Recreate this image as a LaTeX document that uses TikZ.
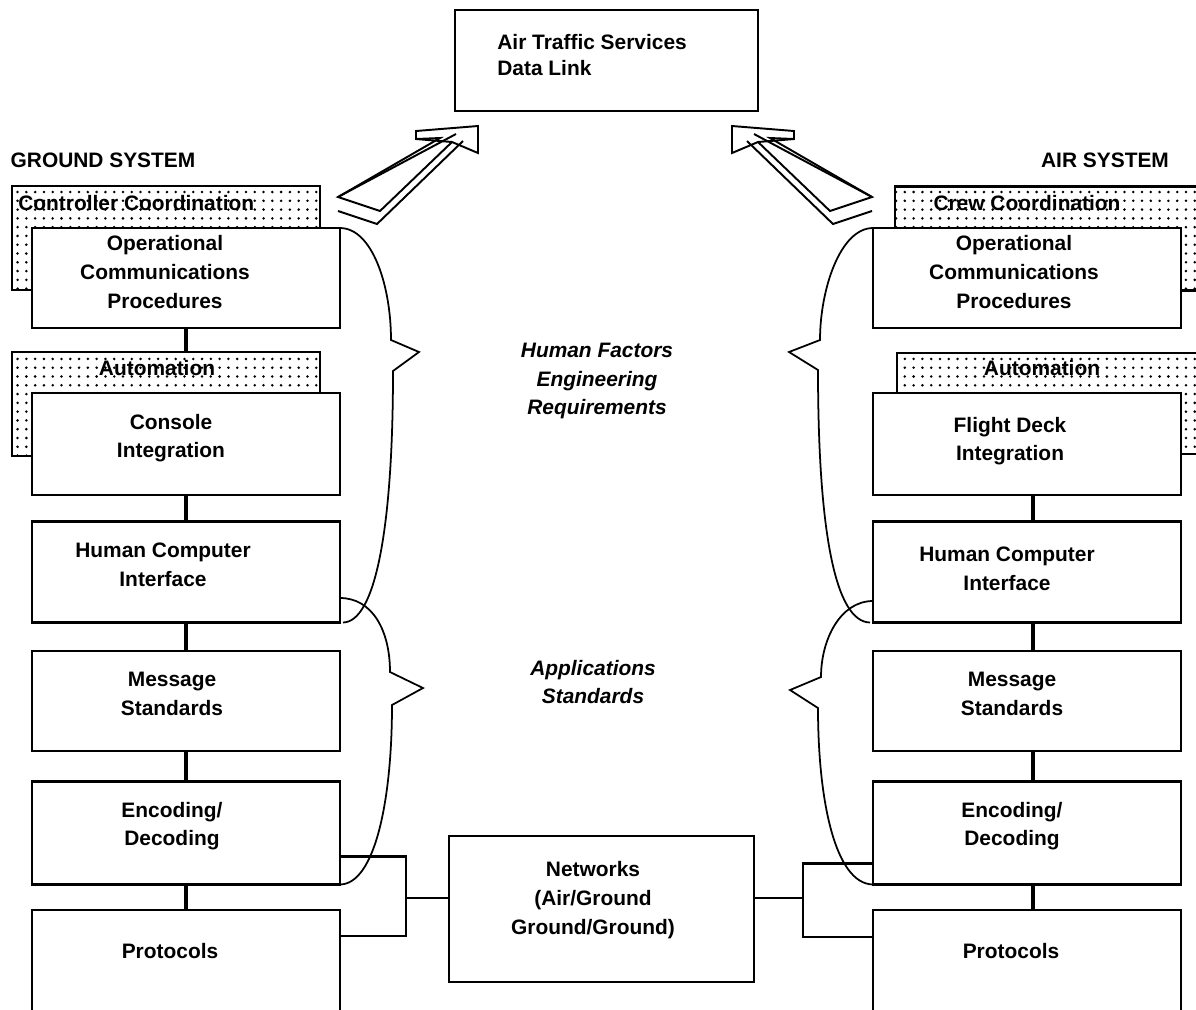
\documentclass[tikz,border=0pt]{standalone}
\usepackage{fontspec}
\setmainfont{Liberation Sans}
\usetikzlibrary{patterns.meta,calc}
\newcommand\atsarrow{%
  \draw[arr] (338,197) -- (380,211) -- (452,142) -- (478,153) -- (478,126) -- (416,131) -- (416,139) -- (440,138) -- cycle;
  \draw[arr] (338,197) -- (456,134);
  \draw[arr] (416,139) -- (452,142);
  \draw[arr] (338,211) -- (377,224) -- (463,141);
}
\begin{document}
\begin{tikzpicture}[x=0.02cm,y=-0.02cm,
  box/.style={draw,line width=1.2pt,fill=white,minimum width=6.16cm,inner sep=0,outer sep=0},
  dotbox/.style={draw,line width=1.2pt,preaction={fill=white},pattern={Dots[distance=5pt,radius=0.8pt]},minimum width=6.16cm,minimum height=2.08cm,inner sep=0,outer sep=0},
  lbl/.style={font=\bfseries\fontsize{11.9}{16.3}\selectfont,align=center,inner sep=0},
  ilbl/.style={font=\bfseries\itshape\fontsize{11.9}{16.3}\selectfont,align=center,inner sep=0},
  conn/.style={line width=2.4pt},
  thinc/.style={line width=1.2pt},
  brace/.style={line width=1pt,line join=miter},
  arr/.style={line width=1.1pt,line join=miter}]
\useasboundingbox (0,0) rectangle (1196,1009);
\clip (0,0) rectangle (1196,1009);

% top box
\node[box,minimum width=6.06cm,minimum height=2.02cm] (TB) at (606.5,60.5) {};
\node[lbl,align=left,anchor=west,font=\bfseries\fontsize{11.9}{15}\selectfont] (TBt) at (497,55) {Air Traffic Services\\Data Link};

% titles
\node[lbl] (GS) at (103,160) {GROUND SYSTEM};
\node[lbl] (AS) at (1105,160) {AIR SYSTEM};

% dotted boxes
\node[dotbox] (LC) at (166,238) {};
\node[lbl,anchor=west] (LCt) at (18,203) {Controller Coordination};
\node[dotbox] (LA) at (166,404) {};
\node[lbl] (LAt) at (157,368) {Automation};
\node[dotbox] (RC) at (1049,238.5) {};
\node[lbl] (RCt) at (1027,203) {Crew Coordination};
\node[dotbox,minimum height=2.02cm] (RA) at (1051,403.5) {};
\node[lbl] (RAt) at (1042,368) {Automation};

% left column
\node[box,minimum height=2cm] (L1) at (186,278) {};
\node[box,minimum height=2.04cm] (L2) at (186,444) {};
\node[box,minimum height=2.02cm] (L3) at (186,572) {};
\node[box,minimum height=2cm] (L4) at (186,701) {};
\node[box,minimum height=2.06cm] (L5) at (186,833) {};
\node[box,minimum height=2.04cm] (L6) at (186,961) {};
\node[lbl] (L1t) at (165,272) {Operational\\Communications\\Procedures};
\node[lbl] (L2t) at (171,438) {Console\\Integration};
\node[lbl] (L3t) at (163,565) {Human Computer\\Interface};
\node[lbl] (L4t) at (172,694) {Message\\Standards};
\node[lbl] (L5t) at (172,826) {Encoding/\\Decoding};
\node[lbl] (L6t) at (170,951) {Protocols};

% right column
\node[box,minimum height=2cm] (R1) at (1027,278) {};
\node[box,minimum height=2.04cm] (R2) at (1027,444) {};
\node[box,minimum height=2.02cm] (R3) at (1027,572) {};
\node[box,minimum height=2cm] (R4) at (1027,701) {};
\node[box,minimum height=2.06cm] (R5) at (1027,833) {};
\node[box,minimum height=2.04cm] (R6) at (1027,961) {};
\node[lbl] (R1t) at (1014,272) {Operational\\Communications\\Procedures};
\node[lbl] (R2t) at (1010,441) {Flight Deck\\Integration};
\node[lbl] (R3t) at (1007,569) {Human Computer\\Interface};
\node[lbl] (R4t) at (1012,694) {Message\\Standards};
\node[lbl] (R5t) at (1012,826) {Encoding/\\Decoding};
\node[lbl] (R6t) at (1011,951) {Protocols};

% networks
\node[box,minimum width=6.1cm,minimum height=2.92cm] (NW) at (601.5,909) {};
\node[lbl] (NWt) at (593,900) {Networks\\(Air/Ground\\Ground/Ground)};

% column connectors
\draw[conn] (L1.south) -- (L1.south |- LA.north);
\draw[conn] (L2.south) -- (L3.north);
\draw[conn] (L3.south) -- (L4.north);
\draw[conn] (L4.south) -- (L5.north);
\draw[conn] (L5.south) -- (L6.north);
\draw[conn] ($(R1.south)+(6,0)$) -- ($(R1.south)+(6,0)$ |- RA.north);
\draw[conn] ($(R2.south)+(6,0)$) -- ($(R3.north)+(6,0)$);
\draw[conn] ($(R3.south)+(6,0)$) -- ($(R4.north)+(6,0)$);
\draw[conn] ($(R4.south)+(6,0)$) -- ($(R5.north)+(6,0)$);
\draw[conn] ($(R5.south)+(6,0)$) -- ($(R6.north)+(6,0)$);

% network connectors
\coordinate (jl) at (406,898);
\coordinate (jr) at (803,898);
\draw[thinc] ($(L5.south east)+(0,-28)$) -| (jl) |- ($(L6.north east)+(0,26)$);
\draw[thinc] (jl) -- (jl -| NW.west);
\draw[thinc] ($(R5.south west)+(0,-21)$) -| (jr) |- ($(R6.north west)+(0,27)$);
\draw[thinc] (jr) -- (jr -| NW.east);

% braces
\draw[brace] (L1.north east) .. controls (372,228) and (391,285) .. (391,340) -- (419,352) -- (393,371) .. controls (393,530) and (375,622) .. ($(L3.south east)+(3,0)$);
\draw[brace] (340,598) .. controls (372,598) and (390,630) .. (390,672) -- (423,688) -- (392,705) .. controls (392,800) and (375,884) .. (L5.south east);
\draw[brace] (R1.north west) .. controls (840,228) and (820,290) .. (820,340) -- (789,352) -- (818,370) .. controls (818,530) and (835,622) .. ($(R3.south west)+(-3,0)$);
\draw[brace] (873,601) .. controls (840,601) and (821,640) .. (821,677) -- (790,690) -- (818,708) .. controls (818,800) and (835,884) .. (R5.south west);

% middle texts
\node[ilbl] (HF) at (597,381) {Human Factors\\Engineering\\Requirements};
\node[ilbl] (AP) at (593,682) {Applications\\Standards};

% arrows
\atsarrow
\begin{scope}[shift={(1210,0)},xscale=-1]
\atsarrow
\end{scope}
\end{tikzpicture}
\end{document}
